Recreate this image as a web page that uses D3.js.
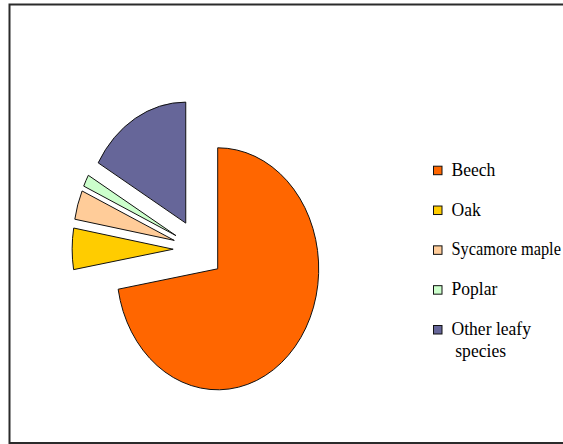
<!DOCTYPE html>
<html>
<head>
<meta charset="utf-8">
<script src="https://cdn.jsdelivr.net/npm/d3@7"></script>
<style>
  html, body { margin: 0; padding: 0; background: #fff; }
  svg { display: block; }
</style>
</head>
<body>
<svg id="chart" width="563" height="444"></svg>
<script>
// Share of tree species (percent)
const categories = ["Beech", "Oak", "Sycamore maple", "Poplar", "Other leafy species"];
const shares = [72.3, 5.5, 3.9, 1.6, 16.7];
const legendLines = [["Beech"], ["Oak"], ["Sycamore maple"], ["Poplar"], ["Other leafy", "species"]];
const colors = ["#FF6600", "#FFCC00", "#FFCC99", "#CCFFCC", "#666699"];

const W = 563;
const svg = d3.select("#chart");

// outer chart frame (runs past the right edge)
svg.append("rect")
  .attr("x", 9.5).attr("y", 4.5)
  .attr("width", 640).attr("height", 438.5)
  .attr("fill", "none")
  .attr("stroke", "#2b2b2b")
  .attr("stroke-width", 2);

// pie: circular layout squeezed horizontally into an ellipse
const R = 121;
const squeeze = 101 / 121;
const explode = 0.25;          // every slice pulled out by 25% of the radius
const cx = 198.4, cy = 249.3;

const pie = d3.pie().sort(null).value(d => d);
const arc = d3.arc().innerRadius(0).outerRadius(R);
const arcs = pie(shares);

const pieG = svg.append("g")
  .attr("transform", `translate(${cx},${cy}) scale(${squeeze},1)`);

pieG.selectAll("path")
  .data(arcs)
  .join("path")
  .attr("d", arc)
  .attr("transform", d => {
    const mid = (d.startAngle + d.endAngle) / 2;
    const dx = Math.sin(mid) * R * explode;
    const dy = -Math.cos(mid) * R * explode;
    return `translate(${dx},${dy})`;
  })
  .attr("fill", (d, i) => colors[i])
  .attr("stroke", "#111")
  .attr("stroke-width", 1)
  .attr("vector-effect", "non-scaling-stroke")
  .attr("stroke-linejoin", "miter");

// legend
const legendY = d3.scalePoint()
  .domain(categories)
  .range([175.7, 335]);

const textX = 451.5;
const legend = svg.append("g");
const rows = legend.selectAll("g")
  .data(categories)
  .join("g")
  .attr("transform", d => `translate(0,${legendY(d)})`);

rows.append("rect")
  .attr("x", 433.5).attr("y", -9.5)
  .attr("width", 8.5).attr("height", 8.5)
  .attr("fill", (d, i) => colors[i])
  .attr("stroke", "#111")
  .attr("stroke-width", 1);

rows.each(function (d, i) {
  const lines = legendLines[i];
  const t = d3.select(this).append("text")
    .attr("font-family", "'Liberation Serif', 'Times New Roman', serif")
    .attr("font-size", 18.5)
    .attr("fill", "#000");
  lines.forEach((line, k) => {
    t.append("tspan")
      .attr("x", k === 0 ? 0 : 4)
      .attr("y", k * 22.5)
      .text(line);
  });
  // narrow serif look; squeeze a bit more if a label would run past the edge
  const len = t.node().getBBox().width;
  const room = W - 2 - textX;
  const sx = Math.min(0.95, room / len);
  t.attr("transform", `translate(${textX},0) scale(${sx},1)`);
});
</script>
</body>
</html>
